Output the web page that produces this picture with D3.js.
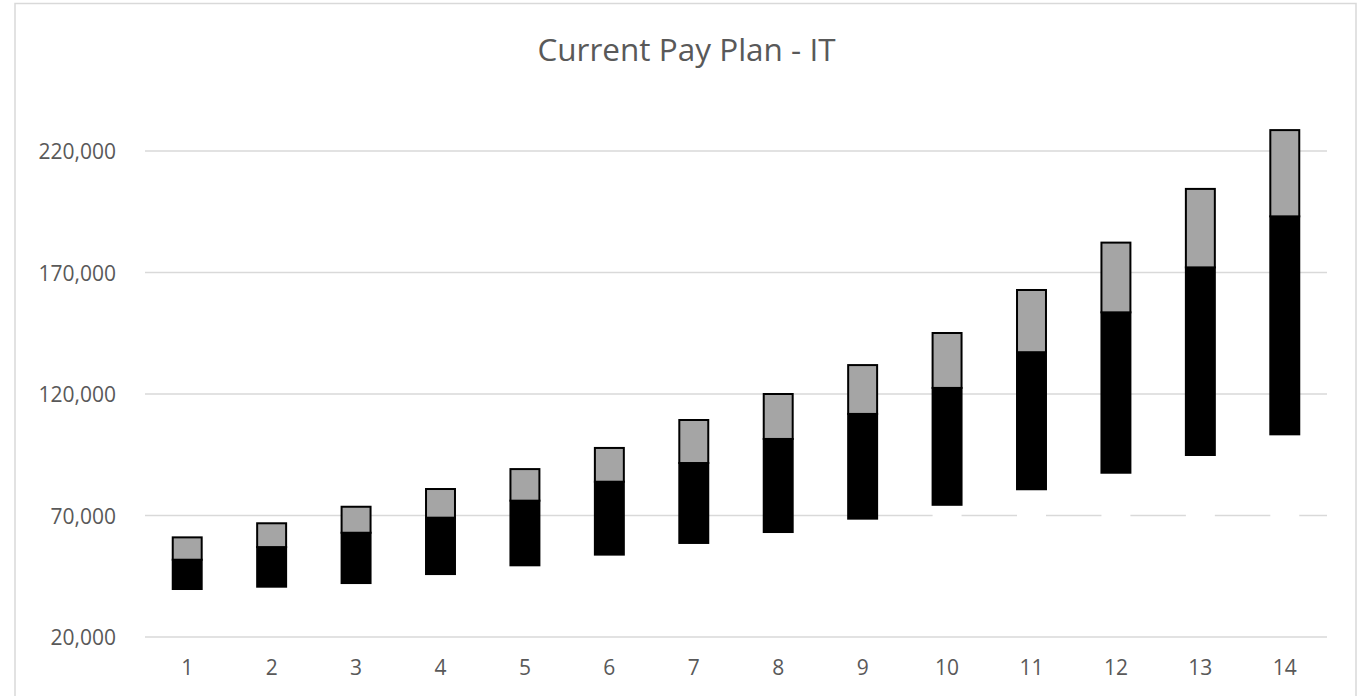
<!DOCTYPE html>
<html>
<head>
<meta charset="utf-8">
<script src="https://cdn.jsdelivr.net/npm/d3@7"></script>
<style>
  html, body { margin: 0; padding: 0; background: #ffffff; }
  svg { display: block; }
  text { font-family: "Open Sans", sans-serif; fill: #595959; }
</style>
</head>
<body>
<svg id="chart" width="1362" height="696"></svg>
<script>
// ---- data ----
const grades = ["1","2","3","4","5","6","7","8","9","10","11","12","13","14"];
const minPay = [39750, 40700, 42200, 45900, 49500, 53900, 58700, 63200, 68700, 74400, 80800, 87600, 94900, 103400];
const midPay = [51800, 57000, 62900, 69100, 76100, 83900, 91600, 101500, 111800, 122500, 137200, 153600, 172100, 193100];
const maxPay = [61000, 66800, 73600, 80900, 89100, 97800, 109300, 120000, 131900, 145100, 162800, 182300, 204400, 228600];
const yTicks = [20000, 70000, 120000, 170000, 220000];
const titleText = "Current Pay Plan - IT";

// ---- layout ----
const plot = { left: 145, right: 1327, top: 60, bottom: 637 };

const svg = d3.select("#chart");

// chart border
svg.append("rect")
  .attr("x", 15).attr("y", 3.5)
  .attr("width", 1341).attr("height", 720)
  .attr("fill", "#ffffff")
  .attr("stroke", "#d9d9d9").attr("stroke-width", 1.5);

// title
svg.append("text")
  .attr("x", 686.5).attr("y", 61)
  .attr("text-anchor", "middle")
  .style("font-size", "31.5px")
  .text(titleText);

const x = d3.scaleBand()
  .domain(grades)
  .range([plot.left, plot.right])
  .paddingInner(0.657)
  .paddingOuter(0.3285);

const y = d3.scaleLinear()
  .domain([20000, 220000])
  .range([637, 151]);

// gridlines
const grid = svg.append("g");
grid.selectAll("line")
  .data(yTicks.filter(d => d !== 20000))
  .join("line")
  .attr("x1", plot.left).attr("x2", plot.right)
  .attr("y1", d => y(d)).attr("y2", d => y(d))
  .attr("stroke", "#d9d9d9").attr("stroke-width", 1.5);

// y-axis labels
const fmt = d3.format(",");
const yAxis = d3.axisLeft(y).tickValues(yTicks).tickFormat(fmt).tickSize(0).tickPadding(0);
const yg = svg.append("g").attr("transform", "translate(116,0)").call(yAxis);
yg.select(".domain").remove();
yg.selectAll("text")
  .style("font-size", "21px")
  .style("font-family", "'Open Sans', sans-serif")
  .attr("fill", "#595959")
  .attr("dy", "0.36em");

// stacked data
const rows = grades.map((g, i) => ({
  grade: g,
  base: minPay[i],
  low: midPay[i] - minPay[i],
  high: maxPay[i] - midPay[i]
}));
const stack = d3.stack().keys(["base", "low", "high"]);
const series = stack(rows);
const fills = { base: "#ffffff", low: "#000000", high: "#a5a5a5" };
const strokes = { base: "none", low: "#000000", high: "#000000" };

svg.append("clipPath").attr("id", "plotclip")
  .append("rect")
  .attr("x", plot.left).attr("y", 0)
  .attr("width", plot.right - plot.left).attr("height", plot.bottom);

const barsG = svg.append("g").attr("clip-path", "url(#plotclip)");
barsG.selectAll("g")
  .data(series)
  .join("g")
  .attr("fill", s => fills[s.key])
  .attr("stroke", s => strokes[s.key])
  .attr("stroke-width", 2)
  .selectAll("rect")
  .data(s => s)
  .join("rect")
  .attr("x", d => x(d.data.grade))
  .attr("width", x.bandwidth())
  .attr("y", d => y(d[1]))
  .attr("height", d => y(d[0]) - y(d[1]));

// category axis line (20,000)
svg.append("line")
  .attr("x1", plot.left).attr("x2", plot.right)
  .attr("y1", y(20000)).attr("y2", y(20000))
  .attr("stroke", "#d9d9d9").attr("stroke-width", 1.5);

// x-axis labels
const xAxis = d3.axisBottom(x).tickSize(0).tickPadding(0);
const xg = svg.append("g").attr("transform", "translate(0,675)").call(xAxis);
xg.select(".domain").remove();
xg.selectAll("text")
  .style("font-size", "21px")
  .style("font-family", "'Open Sans', sans-serif")
  .attr("fill", "#595959")
  .attr("dy", "0");
</script>
</body>
</html>
